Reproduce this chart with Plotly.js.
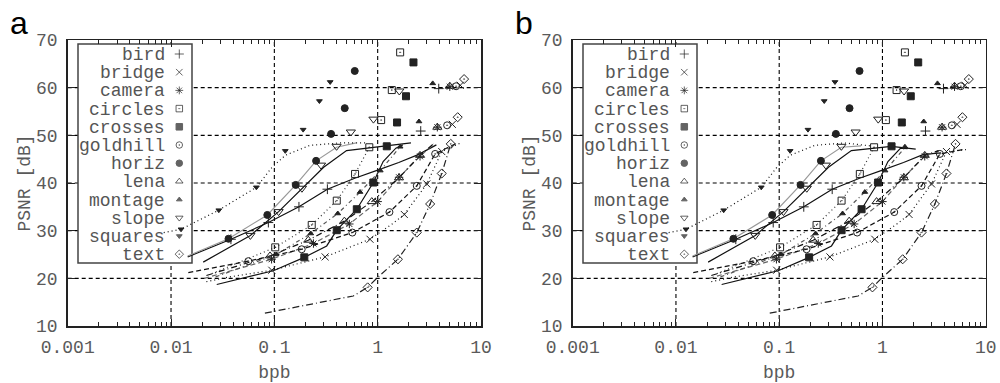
<!DOCTYPE html>
<html><head><meta charset="utf-8">
<script src="https://cdn.plot.ly/plotly-3.0.1.min.js"></script>
<style>html,body{margin:0;padding:0;background:#fff}</style>
</head><body><div id="plot" style="width:1000px;height:383px"></div>
<script>
// ---- data (panel a) ----
const seriesNames = ['bird','bridge','camera','circles','crosses','goldhill','horiz','lena','montage','slope','squares','text'];

const birdLineX = [0.0145,0.038,0.0875,0.173,0.326,0.6,1.0,1.6,2.5,3.7];
const birdLineY = [24.5,28.2,31.7,35.0,38.7,41.0,42.7,44.3,46.0,48.0];
const birdPtsX = [0.038,0.0875,0.173,0.326,2.61,3.9];
const birdPtsY = [28.2,31.7,35.0,38.7,50.9,59.8];

const bridgeLineX = [0.022,0.037,0.0945,0.31,0.843,1.4,1.81,2.99,4.17,6.5];
const bridgeLineY = [19.3,20.3,21.7,24.5,28.2,31.5,33.4,39.8,46.6,48.5];
const bridgePtsX = [0.0945,0.31,0.843,1.81,2.99,4.17,5.28,6.3];
const bridgePtsY = [21.7,24.5,28.2,33.4,39.8,46.6,52.3,60.5];

const cameraLineX = [0.021,0.094,0.239,0.532,1.0,1.61,2.57,3.5];
const cameraLineY = [20.0,24.0,27.3,31.4,36.1,41.2,45.6,48.2];
const cameraPtsX = [0.094,0.239,0.532,1.0,1.61,2.57,3.78,4.99];
const cameraPtsY = [24.0,27.3,31.4,36.1,41.2,45.6,51.7,60.2];

const circlesLineX = [0.025,0.102,0.23,0.402,0.604,0.83];
const circlesLineY = [21.0,26.5,31.2,36.3,41.9,47.5];
const circlesPtsX = [0.102,0.23,0.402,0.604,0.83,1.08,1.37,1.65];
const circlesPtsY = [26.5,31.2,36.3,41.9,47.5,53.2,59.5,67.4];

const crossesLineX = [0.0277,0.0977,0.195,0.321,0.402,0.628,0.908,1.13,1.5,1.75];
const crossesLineY = [18.7,21.6,24.4,26.8,30.1,34.5,40.1,44.5,47.3,48.0];
const crossesPtsX = [0.195,0.402,0.628,0.908,1.225,1.54,1.88,2.22];
const crossesPtsY = [24.4,30.1,34.5,40.1,47.7,52.7,58.2,65.3];

const goldhillLineX = [0.0147,0.056,0.184,0.569,1.30,2.39,3.6,6.0];
const goldhillLineY = [21.2,23.6,26.1,29.6,33.9,39.4,46.1,48.5];
const goldhillPtsX = [0.056,0.184,0.569,1.30,2.39,3.6,4.7,5.74];
const goldhillPtsY = [23.6,26.1,29.6,33.9,39.4,46.1,52.1,60.3];

const horizLineX = [0.0145,0.036,0.0855,0.161,0.2535,0.4,0.62];
const horizLineY = [24.7,28.3,33.3,39.6,44.65,47.5,48.4];
const horizPtsX = [0.036,0.0855,0.161,0.2535,0.354,0.48,0.6];
const horizPtsY = [28.3,33.3,39.6,44.65,50.3,55.7,63.5];

const lenaLineX = [0.022,0.0908,0.213,0.476,0.877,1.61,2.57,3.5];
const lenaLineY = [20.6,24.7,28.0,32.0,36.1,41.1,45.8,48.3];
const lenaPtsX = [0.0908,0.213,0.476,0.877,1.61,2.57,3.78,4.99];
const lenaPtsY = [24.7,28.0,32.0,36.1,41.1,45.8,51.7,60.3];

const montageLineX = [0.027,0.104,0.225,0.411,0.675,1.06,1.65];
const montageLineY = [20.3,25.0,29.4,33.6,38.1,42.6,47.6];
const montagePtsX = [0.104,0.225,0.411,0.675,1.06,1.65,2.51,3.41];
const montagePtsY = [25.0,29.4,33.6,38.1,42.6,47.6,52.9,60.9];

const slopeLineX = [0.0205,0.0586,0.11,0.185,0.3,0.5,0.83,1.22,2.1];
const slopeLineY = [23.4,29.0,34.0,38.9,43.3,46.8,47.4,47.7,48.4];
const slopePtsX = [0.0586,0.11,0.185,0.283,0.40,0.55,0.91,1.62];
const slopePtsY = [29.0,34.0,38.9,43.75,47.7,50.7,53.4,59.3];

const squaresLineX = [0.0085,0.0125,0.029,0.0466,0.067,0.095,0.1276,0.221,0.432,0.755];
const squaresLineY = [29.6,30.3,34.3,37.1,39.1,43.3,45.8,47.9,48.4,48.4];
const squaresPtsX = [0.0125,0.029,0.067,0.1276,0.19,0.273,0.347];
const squaresPtsY = [30.3,34.3,39.1,46.75,51.2,57.2,61.2];

const textLineX = [0.081,0.58,0.8,1.0,1.57,2.39,3.22,4.17,5.1];
const textLineY = [12.7,16.3,18.1,20.2,24.0,29.6,35.6,42.0,48.2];
const textPtsX = [0.8,1.57,2.39,3.22,4.17,5.1,5.95,6.86];
const textPtsY = [18.1,24.0,29.6,35.6,42.0,48.2,53.8,61.8];

// panel b: curve end values (same order as seriesNames)
const panelBLineEndY = [46.3,47.0,46.8,47.5,47.2,47.0,47.8,46.8,47.4,47.1,47.8,48.2];

const xTickVals = [0.001,0.01,0.1,1,10];
const xTickText = ['0.001','0.01','0.1','1','10'];
const yTickVals = [10,20,30,40,50,60,70];

// ---- styles ----
const data = {
  bird:[birdLineX,birdLineY,birdPtsX,birdPtsY],
  bridge:[bridgeLineX,bridgeLineY,bridgePtsX,bridgePtsY],
  camera:[cameraLineX,cameraLineY,cameraPtsX,cameraPtsY],
  circles:[circlesLineX,circlesLineY,circlesPtsX,circlesPtsY],
  crosses:[crossesLineX,crossesLineY,crossesPtsX,crossesPtsY],
  goldhill:[goldhillLineX,goldhillLineY,goldhillPtsX,goldhillPtsY],
  horiz:[horizLineX,horizLineY,horizPtsX,horizPtsY],
  lena:[lenaLineX,lenaLineY,lenaPtsX,lenaPtsY],
  montage:[montageLineX,montageLineY,montagePtsX,montagePtsY],
  slope:[slopeLineX,slopeLineY,slopePtsX,slopePtsY],
  squares:[squaresLineX,squaresLineY,squaresPtsX,squaresPtsY],
  text:[textLineX,textLineY,textPtsX,textPtsY]
};
const style = {
  bird:{sym:'cross-thin-open',size:7,dash:'solid',color:'#111'},
  bridge:{sym:'x-thin-open',size:7,dash:'1px,3px',color:'#111'},
  camera:{sym:'asterisk-open',size:7,dash:'5px,3px',color:'#666'},
  circles:{sym:'square-open-dot',size:7,dash:'1px,3px',color:'#333'},
  crosses:{sym:'square',size:7,dash:'solid',color:'#111'},
  goldhill:{sym:'circle-open-dot',size:7,dash:'5px,3px',color:'#111'},
  horiz:{sym:'circle',size:7,dash:'solid',color:'#999'},
  lena:{sym:'triangle-up-open',size:8,dash:'6px,3px,1px,3px',color:'#111'},
  montage:{sym:'triangle-up',size:5,dash:'4px,3px,1px,3px',color:'#555'},
  slope:{sym:'triangle-down-open',size:8,dash:'solid',color:'#111'},
  squares:{sym:'triangle-down',size:5,dash:'1px,3px',color:'#111'},
  text:{sym:'diamond-open-dot',size:7,dash:'7px,3px,1px,3px',color:'#222'}
};

const W=1000,H=383,TOP=40,BOT=326;
const panels = [
  {xa:'x',ya:'y',xk:'xaxis',yk:'yaxis',left:67.7,right:481,label:'a',labelX:19,b:false},
  {xa:'x2',ya:'y2',xk:'xaxis2',yk:'yaxis2',left:572.7,right:985.7,label:'b',labelX:524,b:true}
];

const minorVals=[];
for(let d=-3; d<1; d++){ for(let k=2;k<10;k++){ minorVals.push(k*Math.pow(10,d)); } }

const monoFont = 'Liberation Mono, Courier New, monospace';
const traces=[], shapes=[], annotations=[];
const layout = {
  width:W,height:H,margin:{l:0,r:0,t:0,b:0},
  paper_bgcolor:'#fff',plot_bgcolor:'#fff',showlegend:false,
  shapes:shapes,annotations:annotations
};
const gridLine = {color:'#000',width:1.1,dash:'4px,3px'};

panels.forEach((p)=>{
  const plotW = p.right-p.left;
  layout[p.xk] = {
    type:'log',range:[-3,1],domain:[p.left/W,p.right/W],anchor:p.ya,
    tickmode:'array',tickvals:xTickVals,ticktext:xTickText,
    ticks:'inside',ticklen:7,tickcolor:'#222',tickwidth:1,
    minor:{tickmode:'array',tickvals:minorVals,ticks:'inside',ticklen:4,tickcolor:'#222',showgrid:false},
    showline:true,linecolor:'#222',linewidth:1.5,mirror:'ticks',
    showgrid:false,zeroline:false,
    tickfont:{family:monoFont,size:18,color:'#5a5a5a'},ticklabelstandoff:4,
    title:{text:'bpb',font:{family:monoFont,size:18,color:'#5a5a5a'},standoff:10}
  };
  layout[p.yk] = {
    range:[10,70],domain:[(H-BOT)/H,(H-TOP)/H],anchor:p.xa,
    tickmode:'array',tickvals:yTickVals,
    ticks:'inside',ticklen:7,tickcolor:'#222',
    showline:true,linecolor:'#222',linewidth:1.5,mirror:'ticks',
    showgrid:false,zeroline:false,
    tickfont:{family:monoFont,size:18,color:'#5a5a5a'},ticklabelstandoff:5,
    title:{text:'PSNR [dB]',font:{family:monoFont,size:18,color:'#5a5a5a'},standoff:0}
  };

  // dashed grid at the major ticks (drawn as shapes below the key box)
  xTickVals.slice(1,-1).forEach(v=>{
    const f=(Math.log10(v)+3)/4;
    shapes.push({type:'line',xref:p.xa+' domain',yref:p.ya+' domain',x0:f,x1:f,y0:0,y1:1,line:gridLine,layer:'below'});
  });
  yTickVals.slice(1,-1).forEach(v=>{
    shapes.push({type:'line',xref:p.xa+' domain',yref:p.ya,x0:0,x1:1,y0:v,y1:v,line:gridLine,layer:'below'});
  });

  seriesNames.forEach((n,i)=>{
    const d=data[n], s=style[n];
    let ly = d[1];
    if(p.b){ ly = d[1].slice(); ly[ly.length-1] = panelBLineEndY[i]; }
    traces.push({x:d[0],y:ly,xaxis:p.xa,yaxis:p.ya,mode:'lines',
      line:{color:s.color,width:1.2,dash:s.dash},hoverinfo:'skip'});
  });
  seriesNames.forEach((n)=>{
    const d=data[n], s=style[n];
    traces.push({x:d[2],y:d[3],xaxis:p.xa,yaxis:p.ya,mode:'markers',
      marker:{symbol:s.sym,size:s.size,color:'#222',line:{color:'#222',width:1}},hoverinfo:'skip'});
  });

  // legend box (gnuplot style key)
  const boxL=p.left+10.3, boxR=p.left+124.3, boxT=44, boxB=263;
  const fx = v=>(v-p.left)/plotW, fy = v=>(BOT-v)/(BOT-TOP);
  const lgx = v=>-3+4*fx(v);
  const dy = v=>10+60*fy(v);
  shapes.push({type:'rect',xref:p.xa+' domain',yref:p.ya+' domain',
    x0:fx(boxL),x1:fx(boxR),y0:fy(boxB),y1:fy(boxT),
    fillcolor:'#ffffff',line:{color:'#444',width:1.5},layer:'below'});
  const lx=[],lyy=[],lsym=[],lsize=[];
  seriesNames.forEach((n,i)=>{
    const rowY = 55 + i*18.2;
    annotations.push({xref:'paper',yref:'paper',x:(p.left+99)/W,y:(H-rowY)/H,
      xanchor:'right',yanchor:'middle',showarrow:false,text:n,
      font:{family:monoFont,size:18,color:'#555'}});
    lx.push(Math.pow(10,lgx(p.left+111.6))); lyy.push(dy(rowY-1));
    lsym.push(style[n].sym); lsize.push(Math.min(style[n].size,6.5));
  });
  traces.push({x:lx,y:lyy,xaxis:p.xa,yaxis:p.ya,mode:'markers',
    marker:{symbol:lsym,size:lsize,color:'#222',line:{color:'#222',width:1}},hoverinfo:'skip'});

  annotations.push({xref:'paper',yref:'paper',x:p.labelX/W,y:1-23/H,xanchor:'center',yanchor:'middle',
    showarrow:false,text:p.label,font:{family:'Liberation Sans, Arial, sans-serif',size:32,color:'#000'}});
});

Plotly.newPlot('plot',traces,layout,{staticPlot:true});
</script></body></html>
